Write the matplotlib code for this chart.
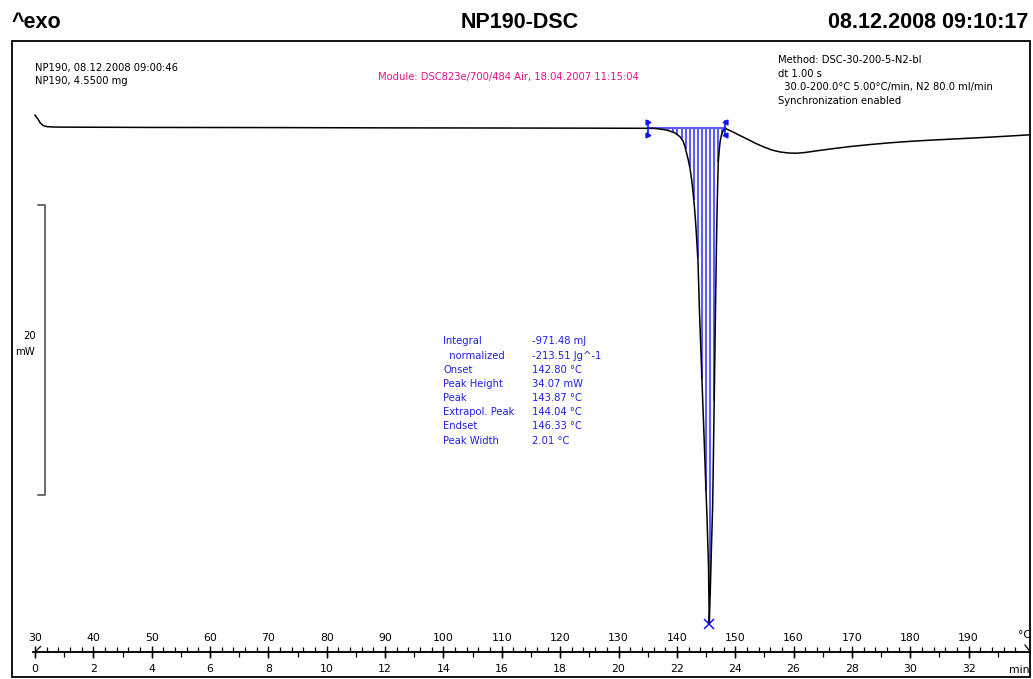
import numpy as np
import matplotlib
matplotlib.use("Agg")
import matplotlib.pyplot as plt
from matplotlib.patches import Rectangle
from matplotlib.lines import Line2D
from matplotlib.ticker import FixedLocator
import matplotlib.transforms as mtransforms

# ---------------- data ----------------
temp_c = [30.0, 30.5, 30.9, 31.4, 32.0, 33.0, 35.0, 50.0, 70.0, 90.0, 110.0, 125.0,
          135.06, 136.25, 137.11, 137.97, 138.82, 139.68, 140.54, 141.06, 141.40,
          141.96, 142.25, 142.54, 142.77, 142.94, 143.11, 143.28, 143.45, 143.62,
          143.88, 144.31, 144.74, 145.17, 145.42, 145.56,
          145.73, 145.94, 146.14, 146.28, 146.45, 146.62, 146.76, 146.86, 146.97,
          147.10, 147.26, 147.43, 147.65, 147.91, 148.25,
          149.45, 150.82, 152.19, 153.56, 154.93, 156.30, 157.67, 159.05, 160.42,
          161.96, 163.68, 166.25, 169.67, 173.10, 176.53, 179.96, 183.39, 186.81,
          190.24, 193.67, 197.10, 200.0, 200.5]
heat_flow_mw = [0.91, 0.64, 0.37, 0.19, 0.12, 0.09, 0.08, 0.06, 0.05, 0.03, 0.02, 0.01,
                0.00, -0.01, -0.05, -0.10, -0.19, -0.32, -0.58, -0.88, -1.27,
                -2.19, -2.74, -3.57, -4.39, -5.08, -5.91, -6.88, -7.99, -9.10,
                -12.68, -17.43, -22.12, -26.88, -30.12, -34.19,
                -31.82, -28.74, -25.98, -22.19, -17.36, -12.53, -8.74, -6.32, -4.25,
                -2.32, -1.50, -0.88, -0.46, -0.19, 0.00,
                -0.22, -0.50, -0.77, -1.05, -1.29, -1.50, -1.63, -1.70, -1.72,
                -1.67, -1.57, -1.43, -1.26, -1.12, -1.00, -0.90, -0.82, -0.75,
                -0.68, -0.61, -0.53, -0.46, -0.45]

hatch_temps = [136.4, 137.1, 137.8, 138.5, 139.3, 140.1, 140.8, 141.5, 142.2, 142.9,
               143.6, 144.3, 145.0, 145.7, 146.4, 147.1, 147.7]
integration_limits = [135.06, 148.25]
integration_baseline = 0.0
peak_temp = 145.56
peak_value = -34.19

scale_top = -5.3
scale_len = 20.0

temp_ticks = [30, 40, 50, 60, 70, 80, 90, 100, 110, 120, 130, 140, 150, 160, 170, 180, 190]
temp_minor = list(range(32, 200, 2))
time_ticks = [0, 2, 4, 6, 8, 10, 12, 14, 16, 18, 20, 22, 24, 26, 28, 30, 32]
time_minor = list(range(1, 34, 1))

title_left = "^exo"
title_mid = "NP190-DSC"
title_right = "08.12.2008 09:10:17"
sample_lines = ["NP190, 08.12.2008 09:00:46", "NP190, 4.5500 mg"]
module_text = "Module: DSC823e/700/484 Air, 18.04.2007 11:15:04"
method_lines = ["Method: DSC-30-200-5-N2-bl", "dt 1.00 s",
                "  30.0-200.0\u00b0C 5.00\u00b0C/min, N2 80.0 ml/min",
                "Synchronization enabled"]
result_labels = ["Integral", "  normalized", "Onset", "Peak Height", "Peak",
                 "Extrapol. Peak", "Endset", "Peak Width"]
result_values = ["-971.48 mJ", "-213.51 Jg^-1", "142.80 \u00b0C", "34.07 mW",
                 "143.87 \u00b0C", "144.04 \u00b0C", "146.33 \u00b0C", "2.01 \u00b0C"]

# ---------------- figure ----------------
W, H = 1033, 679
plt.rcParams['font.family'] = ['DejaVu Sans']
fig = plt.figure(figsize=(W / 100, H / 100), dpi=100)
fig.patch.set_facecolor("white")

def fx(px):
    return px / W

def fy(py):
    return 1 - py / H

PXC = 5.835   # pixels per degC
PXM = 14.5    # pixels per mW
ax = fig.add_axes([0, 0, 1, 1])
ax.set_axis_off()
ax.set_xlim(30 - 35 / PXC, 30 + (W - 35) / PXC)
ax.set_ylim((128.3 - H) / PXM, 128.3 / PXM)

blue = "#1010ff"
hatch_col = "#5c5cff"

# hatch of the integrated area
hatch_curve = np.interp(hatch_temps, temp_c, heat_flow_mw)
ax.vlines(hatch_temps, hatch_curve, integration_baseline, colors=hatch_col, lw=1.5, zorder=2)
ax.plot(integration_limits, [integration_baseline] * 2, color=hatch_col, lw=1.5, zorder=2)

# curve
ax.plot(temp_c, heat_flow_mw, color="black", lw=1.1, zorder=3,
        solid_joinstyle="round", antialiased=True, clip_on=False)

# integration limit markers
for t, m in zip(integration_limits, [">", "<"]):
    ax.plot([t, t], [integration_baseline + 0.5, integration_baseline - 0.5], color=blue, lw=1.2, zorder=4)
    ax.plot([t, t], [integration_baseline + 0.45, integration_baseline - 0.45], ls="none",
            marker=m, ms=3.5, color=blue, zorder=4)

# peak marker
ax.plot([peak_temp], [peak_value], marker="x", ms=7, mew=1.1, color=blue, ls="none", zorder=5)

# scale bar (20 mW)
bt = mtransforms.blended_transform_factory(fig.transFigure, ax.transData)
ax.plot([fx(38), fx(45), fx(45), fx(38)],
        [scale_top, scale_top, scale_top - scale_len, scale_top - scale_len],
        color="#444444", lw=1.1, transform=bt, clip_on=False)
fig.text(fx(36), fy(336), "20", ha="right", va="center", fontsize=7.3)
fig.text(fx(35), fy(352), "mW", ha="right", va="center", fontsize=7.3)

# frame
fig.add_artist(Rectangle((fx(12), fy(676.5)), fx(1030) - fx(12), fy(41) - fy(676.5),
                         transform=fig.transFigure, fill=False, lw=1.3, edgecolor="black"))

# bottom scale axis
sc = fig.add_axes([fx(33), fy(652), fx(1030) - fx(33), 1e-6])
sc.set_xlim(30 - 2 / PXC, 30 + (1030 - 35) / PXC)
sc.patch.set_visible(False)
for s in ["left", "right", "top"]:
    sc.spines[s].set_visible(False)
sc.spines["bottom"].set_linewidth(1.1)
sc.set_yticks([])
sc.xaxis.set_ticks_position("top")
sc.set_xticks(temp_ticks)
sc.set_xticklabels([str(t) for t in temp_ticks])
sc.xaxis.set_minor_locator(FixedLocator(temp_minor))
sc.tick_params(axis="x", which="major", direction="inout", length=8, width=1.0,
               top=True, bottom=False, labeltop=True, labelbottom=False, labelsize=7.8, pad=2.5)
sc.tick_params(axis="x", which="minor", direction="out", length=3.4, width=0.9,
               top=True, bottom=False)

sec = sc.secondary_xaxis("bottom", functions=(lambda t: (np.asarray(t) - 30) / 5.0,
                                              lambda m: np.asarray(m) * 5.0 + 30))
sec.set_xticks(time_ticks)
sec.set_xticklabels([str(t) for t in time_ticks])
sec.xaxis.set_minor_locator(FixedLocator(time_minor))
sec.tick_params(axis="x", which="major", direction="out", length=3.6, width=1.0,
                labelsize=7.8, pad=5)
sec.tick_params(axis="x", which="minor", direction="out", length=3.6, width=0.9)
sec.spines["bottom"].set_linewidth(1.1)

fig.add_artist(Line2D([fx(35), fx(40.5)], [fy(652), fy(646.5)], transform=fig.transFigure,
                      color="black", lw=0.9))
fig.add_artist(Line2D([fx(1025), fx(1030)], [fy(645), fy(651.5)], transform=fig.transFigure,
                      color="black", lw=0.9))
fig.text(fx(1031), fy(635), "\u00b0C", ha="right", va="center", fontsize=7.8)
fig.text(fx(1030), fy(670), "min", ha="right", va="center", fontsize=7.8)

# titles
tfont = dict(fontsize=15.5, fontweight="bold", family=["Liberation Sans", "DejaVu Sans"])
fig.text(fx(12), fy(22), title_left, ha="left", va="center", **tfont)
fig.text(fx(520), fy(22), title_mid, ha="center", va="center", **tfont)
fig.text(fx(1028), fy(22), title_right, ha="right", va="center", **tfont)

# annotations
for i, line in enumerate(sample_lines):
    fig.text(fx(35), fy(68 + 13.5 * i), line, ha="left", va="center", fontsize=7.2)
fig.text(fx(508), fy(77), module_text, ha="center", va="center", fontsize=7.2, color="#e8118a")
for i, line in enumerate(method_lines):
    fig.text(fx(778), fy(60 + 13.7 * i), line, ha="left", va="center", fontsize=7.2)
for i, (lab, val) in enumerate(zip(result_labels, result_values)):
    y = fy(341.5 + 14.15 * i)
    fig.text(fx(443), y, lab, ha="left", va="center", fontsize=7.2, color="#2020e6")
    fig.text(fx(532), y, val, ha="left", va="center", fontsize=7.2, color="#2020e6")

fig.savefig("out.png", dpi=100, facecolor="white")
